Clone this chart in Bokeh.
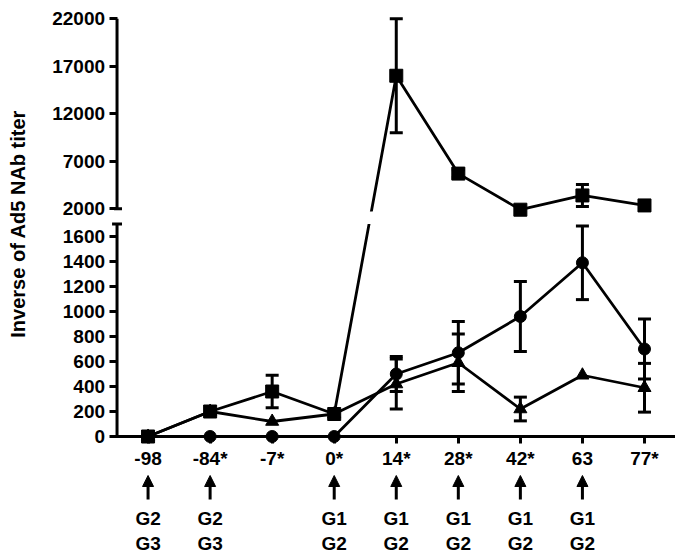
import math
from bokeh.plotting import figure
from bokeh.models import (Range1d, FixedTicker, Label, Whisker, TeeHead, Arrow,
                          NormalHead, ColumnDataSource)
from bokeh.core.properties import value
from bokeh.embed import file_html
from bokeh.resources import INLINE

# ---------------- data ----------------
days = ["-98", "-84*", "-7*", "0*", "14*", "28*", "42*", "63", "77*"]

sq_vals = [0, 200, 360, 180, 16000, 5700, 1900, 3400, 2350]
sq_err = [0, 0, 130, 0, 6000, 400, 0, 1150, 0]

ci_vals = [0, 0, 0, 0, 500, 670, 960, 1390, 700]
ci_err = [0, 0, 0, 0, 140, 250, 280, 295, 240]

tr_vals = [0, 200, 120, 180, 420, 590, 220, 490, 390]
tr_err = [0, 0, 0, 0, 200, 230, 95, 0, 195]

low_ticks = [0, 200, 400, 600, 800, 1000, 1200, 1400, 1600]
high_ticks = [2000, 7000, 12000, 17000, 22000]

arrow_days = ["-98", "-84*", "0*", "14*", "28*", "42*", "63"]
grp_top = ["G2", "G2", "G1", "G1", "G1", "G1", "G1"]
grp_bot = ["G3", "G3", "G2", "G2", "G2", "G2", "G2"]

y_label = "Inverse of Ad5  NAb titer"

# ---------------- broken-axis mapping ----------------
BREAK_LOW = 1700      # top of lower segment (value units)
UP_BASE = 1822        # plotted position of 2000 on the upper segment
UP_SCALE = 0.076      # plotted units per value unit on upper segment


def tr(v):
    return v if v <= 1800 else UP_BASE + (v - 2000) * UP_SCALE


FONT = "Liberation Sans"
xs = list(range(len(days)))

p = figure(width=675, height=559, output_backend="svg", toolbar_location=None,
           x_range=Range1d(-2.378, 8.5), y_range=Range1d(-984, 3488),
           min_border=0, min_border_left=0, min_border_right=0,
           min_border_top=0, min_border_bottom=0)
p.outline_line_color = None
p.xgrid.visible = False
p.ygrid.visible = False
p.background_fill_color = "white"
p.border_fill_color = "white"

# x axis at y = 0
xa = p.xaxis[0]
xa.fixed_location = 0
xa.bounds = (-0.5, 8.5)
xa.ticker = FixedTicker(ticks=xs)
xa.major_label_overrides = {i: d for i, d in enumerate(days)}
xa.axis_line_width = 3
xa.major_tick_line_width = 3
xa.major_tick_out = 7
xa.major_tick_in = 0
xa.minor_tick_line_color = None
xa.major_label_text_font = FONT
xa.major_label_text_font_style = "bold"
xa.major_label_text_font_size = "19px"
xa.major_label_text_color = "black"
xa.major_label_standoff = 4

# y axis (broken) at x = -0.5
ya = p.yaxis[0]
ya.fixed_location = -0.5
ytick_pos = [tr(v) for v in low_ticks] + [tr(v) for v in high_ticks]
ytick_lab = [str(v) for v in low_ticks] + [str(v) for v in high_ticks]
ya.ticker = FixedTicker(ticks=ytick_pos)
ya.major_label_overrides = {pos: lab for pos, lab in zip(ytick_pos, ytick_lab)}
ya.axis_line_color = None
ya.major_tick_line_width = 3
ya.major_tick_out = 8
ya.major_tick_in = 0
ya.minor_tick_line_color = None
ya.major_label_text_font = FONT
ya.major_label_text_font_style = "bold"
ya.major_label_text_font_size = "19px"
ya.major_label_text_color = "black"
ya.major_label_standoff = 4

# series lines
sq_y = [tr(v) for v in sq_vals]
ci_y = [tr(v) for v in ci_vals]
tr_y = [tr(v) for v in tr_vals]

for ys in (sq_y, ci_y, tr_y):
    p.line(xs, ys, line_color="black", line_width=2.8)

# gap of the broken axis
p.quad(left=-0.42, right=8.5, bottom=BREAK_LOW, top=1800,
       fill_color="white", line_color=None)

# axis line pieces with break caps
p.segment(x0=[-0.5, -0.5], y0=[-12, tr(2000)], x1=[-0.5, -0.5], y1=[BREAK_LOW, tr(22000)],
          line_color="black", line_width=3)
p.segment(x0=[-0.58, -0.55], y0=[BREAK_LOW, tr(2000)], x1=[-0.42, -0.42],
          y1=[BREAK_LOW, tr(2000)], line_color="black", line_width=3)

# error bars
for vals, errs in ((sq_vals, sq_err), (ci_vals, ci_err), (tr_vals, tr_err)):
    bx, up, lo = [], [], []
    for i, (v, e) in enumerate(zip(vals, errs)):
        if e > 0:
            bx.append(i)
            up.append(tr(v + e))
            lo.append(tr(v - e))
    src = ColumnDataSource(dict(x=bx, upper=up, lower=lo))
    p.add_layout(Whisker(base="x", upper="upper", lower="lower", source=src,
                         line_color="black", line_width=3,
                         upper_head=TeeHead(size=13, line_width=3, line_color="black"),
                         lower_head=TeeHead(size=13, line_width=3, line_color="black")))

# markers
p.scatter(xs, tr_y, marker="triangle", size=13, fill_color="black", line_color="black")
p.scatter(xs, ci_y, marker="circle", size=12, fill_color="black", line_color="black")
p.scatter(xs, sq_y, marker="square", size=13, fill_color="black", line_color="black")

# arrows and group labels below the axis
ax_idx = [days.index(d) for d in arrow_days]
asrc = ColumnDataSource(dict(x=ax_idx, ys=[-504] * len(ax_idx), ye=[-312] * len(ax_idx)))
p.add_layout(Arrow(x_start="x", y_start="ys", x_end="x", y_end="ye", source=asrc,
                   line_color="black", line_width=3,
                   end=NormalHead(size=11, fill_color="black", line_color="black",
                                  line_width=1)))
p.text(x=ax_idx, y=[-656] * len(ax_idx), text=grp_top, text_font=value(FONT),
       text_font_style="bold", text_font_size="19px", text_align="center",
       text_baseline="middle", text_color="black")
p.text(x=ax_idx, y=[-856] * len(ax_idx), text=grp_bot, text_font=value(FONT),
       text_font_style="bold", text_font_size="19px", text_align="center",
       text_baseline="middle", text_color="black")

# y axis title
p.add_layout(Label(x=-2.09, y=1724, text=y_label, angle=math.pi / 2,
                   text_align="center", text_baseline="middle",
                   text_font=FONT, text_font_style="bold", text_font_size="20px",
                   text_color="black"))

open("out.html", "w").write(file_html(p, INLINE))
